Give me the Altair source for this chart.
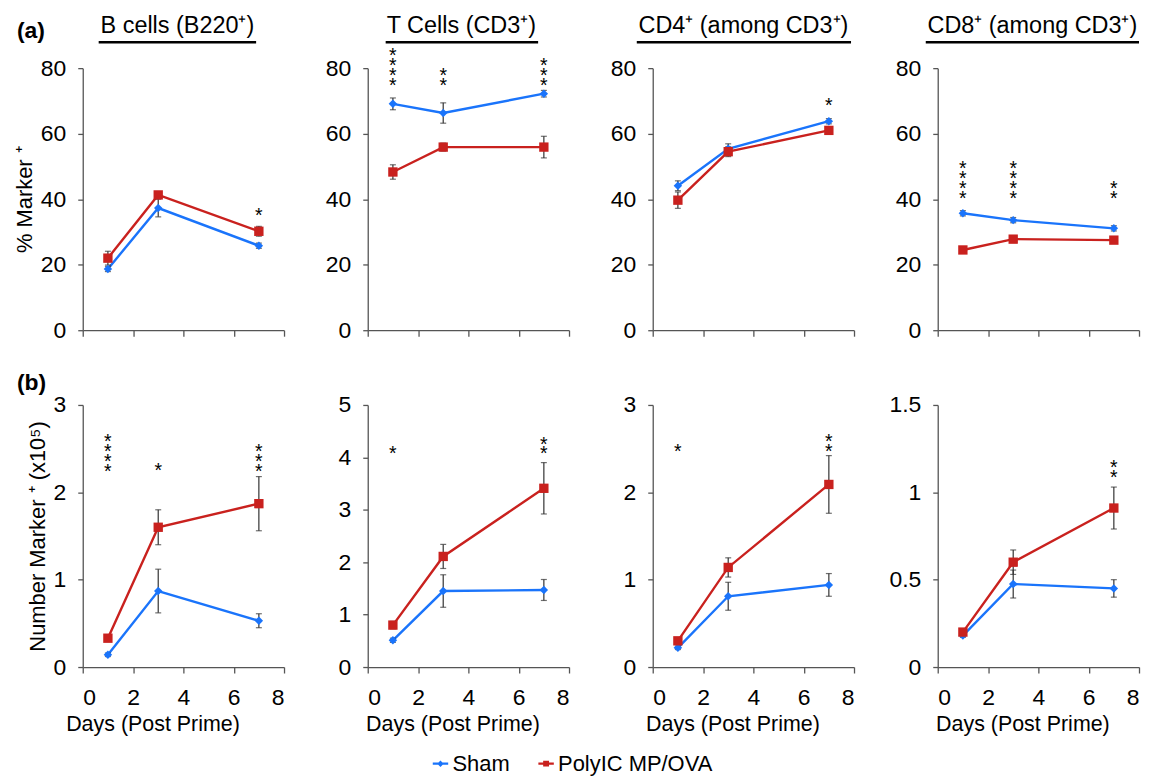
import altair as alt
import pandas as pd

# ---------------- data ----------------
days = [1, 3, 7]
series_names = ["Sham", "PolyIC MP/OVA"]
panel_titles = ["B cells (B220⁺)", "T Cells (CD3⁺)", "CD4⁺ (among CD3⁺)", "CD8⁺ (among CD3⁺)"]
row_labels = ["(a)", "(b)"]
row_y_titles = ["% Marker ⁺", "Number Marker ⁺ (x10⁵)"]
x_title = "Days (Post Prime)"
x_ticks = [0, 2, 4, 6, 8]

# row (a): percent marker+
pct_sham_mean = [[18.7, 37.3, 25.8], [69.1, 66.3, 72.2], [44.1, 55.4, 63.8], [35.7, 33.6, 31.1]]
pct_sham_err = [[0.8, 2.7, 0.8], [1.8, 3.1, 1.0], [1.5, 1.5, 0.8], [0.8, 0.8, 0.8]]
pct_poly_mean = [[22.0, 41.3, 30.2], [48.3, 55.9, 55.9], [39.7, 54.5, 61.0], [24.5, 27.8, 27.5]]
pct_poly_err = [[2.1, 1.0, 1.5], [2.2, 1.2, 3.3], [2.5, 1.5, 0.8], [1.0, 0.8, 0.8]]

# row (b): number marker+ (x10^5)
num_sham_mean = [[0.14, 0.87, 0.53], [0.51, 1.45, 1.47], [0.22, 0.81, 0.94], [0.18, 0.475, 0.45]]
num_sham_err = [[0.02, 0.25, 0.08], [0.04, 0.31, 0.20], [0.02, 0.16, 0.13], [0.01, 0.08, 0.05]]
num_poly_mean = [[0.33, 1.60, 1.87], [0.80, 2.11, 3.41], [0.30, 1.14, 2.09], [0.20, 0.60, 0.91]]
num_poly_err = [[0.02, 0.20, 0.31], [0.07, 0.23, 0.49], [0.03, 0.11, 0.33], [0.02, 0.07, 0.12]]

y_max = [[80, 80, 80, 80], [3, 5, 3, 1.5]]
y_step = [[20, 20, 20, 20], [1, 1, 1, 0.5]]

# significance stars (y = centre of the lowest star)
pct_star_panel = [0, 1, 1, 1, 2, 3, 3, 3]
pct_star_day = [7, 1, 3, 7, 7, 1, 3, 7]
pct_star_count = [1, 4, 2, 3, 1, 4, 4, 2]
pct_star_y = [36.5, 76.2, 76.2, 76.2, 69.9, 41.5, 41.5, 41.5]
num_star_panel = [0, 0, 0, 1, 1, 2, 2, 3]
num_star_day = [1, 3, 7, 1, 7, 1, 7, 7]
num_star_count = [4, 1, 3, 1, 2, 1, 2, 2]
num_star_y = [2.29, 2.30, 2.29, 4.15, 4.15, 2.52, 2.52, 1.11]

# ---------------- style / layout ----------------
BLUE = "#1a74fb"
RED = "#c9211e"
AXIS_GREY = "#555555"
FONT = "Liberation Sans"
W, H = 202, 263
HSPACE, VSPACE = 84, 75
STAR_LH = 10
STAR_FS = 19.5
underline_x = [(16, 174), (18, 171), (-16, 199), (-12, 202)]
title_dx = [-6, -7, -10, -6]
x_title_x = [70, 85, 80, 85]
row_label_y = [-30, -15]

diamond_legend = "M-1,-0.14H1V0.14H-1Z M0,-0.42L0.42,0L0,0.42L-0.42,0Z"
square_legend = "M-1,-0.14H1V0.14H-1Z M-0.38,-0.38H0.38V0.38H-0.38Z"

series_color = {"Sham": BLUE, "PolyIC MP/OVA": RED}
series_shape = {"Sham": ("diamond", 72), "PolyIC MP/OVA": ("square", 88)}

means = [[pct_sham_mean, pct_poly_mean], [num_sham_mean, num_poly_mean]]
errs = [[pct_sham_err, pct_poly_err], [num_sham_err, num_poly_err]]
stars = [
    (pct_star_panel, pct_star_day, pct_star_count, pct_star_y),
    (num_star_panel, num_star_day, num_star_count, num_star_y),
]


def panel(row, col):
    recs = []
    for s, name in enumerate(series_names):
        for i, d in enumerate(days):
            m = means[row][s][col][i]
            e = errs[row][s][col][i]
            recs.append({"day": d, "series": name, "mean": m, "lo": m - e, "hi": m + e})
    df = pd.DataFrame(recs)

    sp, sd, sc, sy = stars[row]
    srecs = [{"day": sd[k], "sy": sy[k], "n": sc[k], "txt": "\n".join(["*"] * sc[k])}
             for k in range(len(sp)) if sp[k] == col]
    sdf = pd.DataFrame(srecs)

    ymax = y_max[row][col]
    step = y_step[row][col]
    yvals = []
    v = 0.0
    while v <= ymax + 1e-9:
        yvals.append(round(v, 3))
        v += step

    x_axis_kw = dict(values=x_ticks, tickSize=6, labelPadding=14)
    if row == 0:
        x_axis_kw["labels"] = False
    else:
        x_axis_kw.update(titleX=x_title_x[col], titlePadding=4, titleAlign="center")
    x_axis = alt.Axis(**x_axis_kw)
    x_t = x_title if row == 1 else None
    y_axis = alt.Axis(values=yvals, format="~r", tickSize=5, labelPadding=12, titlePadding=4)
    y_t = row_y_titles[row] if col == 0 else None
    xs = alt.Scale(domain=[0, 8], nice=False)
    ys = alt.Scale(domain=[0, ymax], nice=False)

    def X(f):
        return alt.X(f, scale=xs, axis=x_axis, title=x_t)

    def Y(f):
        return alt.Y(f, scale=ys, axis=y_axis, title=y_t)

    base = alt.Chart(df)
    layers = []
    for name in series_names:
        layers.append(base.transform_filter(alt.datum.series == name).mark_line(
            strokeWidth=2.4, color=series_color[name]).encode(x=X("day:Q"), y=Y("mean:Q")))
    layers.append(base.mark_rule(color="#333333", strokeWidth=1.2).encode(
        x=X("day:Q"), y=Y("lo:Q"), y2="hi:Q"))
    for f in ["lo", "hi"]:
        layers.append(base.mark_tick(color="#333333", orient="horizontal", size=6,
                                     thickness=1.2).encode(x=X("day:Q"), y=Y(f + ":Q")))
    for name in series_names:
        shp, sz = series_shape[name]
        layers.append(base.transform_filter(alt.datum.series == name).mark_point(
            filled=True, shape=shp, size=sz, color=series_color[name], opacity=1).encode(
            x=X("day:Q"), y=Y("mean:Q")))

    if len(sdf):
        for n in sorted(set(sdf["n"])):
            layers.append(alt.Chart(sdf).transform_filter(alt.datum.n == int(n)).mark_text(
                fontSize=STAR_FS, lineBreak="\n", lineHeight=STAR_LH, baseline="bottom",
                align="center", dy=15 - (int(n) - 1) * STAR_LH, color="black").encode(
                x=X("day:Q"), y=Y("sy:Q"), text="txt:N"))

    if row == 0:
        tdf = pd.DataFrame({"t": [panel_titles[col]]})
        layers.append(alt.Chart(tdf).mark_text(
            fontSize=23.5, align="center", baseline="alphabetic", color="black").encode(
            text="t:N", x=alt.value(W / 2 + title_dx[col]), y=alt.value(-35)))
        layers.append(alt.Chart(tdf).mark_rule(color="black", strokeWidth=2.5).encode(
            x=alt.value(underline_x[col][0]), x2=alt.value(underline_x[col][1]),
            y=alt.value(-26)))

    if col == 0:
        ldf = pd.DataFrame({"t": [row_labels[row]]})
        layers.append(alt.Chart(ldf).mark_text(
            fontSize=23, fontWeight="bold", align="left", baseline="alphabetic",
            color="black").encode(text="t:N", x=alt.value(-66), y=alt.value(row_label_y[row])))

    if row == 0 and col == 0:
        leg = alt.Legend(orient="none", legendX=348, legendY=687, direction="horizontal",
                         title=None, labelFontSize=22, labelColor="black", labelFont=FONT,
                         symbolSize=240, columnPadding=25, labelOffset=1, symbolStrokeWidth=0)
        layers.append(base.transform_filter("datum.day < 0").mark_point(
            filled=True, opacity=1).encode(
            color=alt.Color("series:N", scale=alt.Scale(domain=series_names,
                                                        range=[BLUE, RED]), legend=leg),
            shape=alt.Shape("series:N",
                            scale=alt.Scale(domain=series_names,
                                            range=[diamond_legend, square_legend]),
                            legend=leg)))

    return alt.layer(*layers).properties(width=W, height=H)


panels = [panel(r, c) for r in range(2) for c in range(4)]

chart = alt.concat(*panels, columns=4, spacing={"row": VSPACE, "column": HSPACE},
                   bounds="flush").properties(
    padding={"left": 5, "top": 5, "right": 0, "bottom": 0}
).configure(font=FONT).configure_view(stroke=None).configure_axis(
    domainColor=AXIS_GREY, domainWidth=1.3, tickColor=AXIS_GREY, tickWidth=1.3,
    labelColor="black", labelFontSize=23, labelFont=FONT,
    titleColor="black", titleFontSize=22, titleFontWeight="normal", titleFont=FONT,
    grid=False
).configure_axisX(titleFontSize=21.5)

chart.save("out.html", embed_options={"renderer": "svg", "actions": False})
